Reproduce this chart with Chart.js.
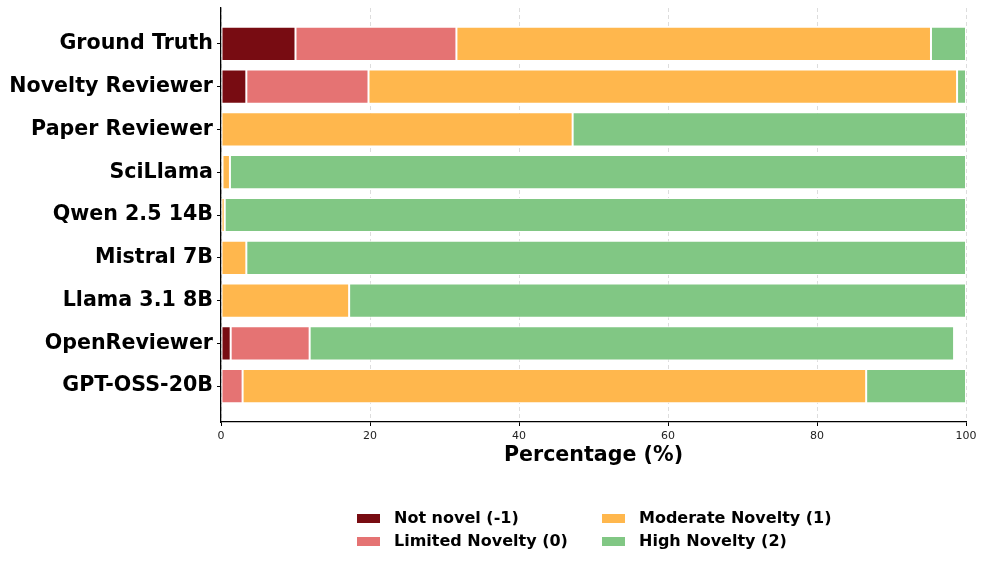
<!DOCTYPE html>
<html>
<head>
<meta charset="utf-8">
<script src="https://cdn.jsdelivr.net/npm/chart.js@4.4.1/dist/chart.umd.min.js"></script>
<style>
  html, body { margin: 0; padding: 0; background: #fff; }
  #wrap { width: 986px; height: 566px; position: relative; }
</style>
</head>
<body>
<div id="wrap"><canvas id="noveltyChart" width="986" height="566"></canvas></div>
<script>
// Data (percent of each model's ratings)
const categories = ['Ground Truth', 'Novelty Reviewer', 'Paper Reviewer', 'SciLlama', 'Qwen 2.5 14B', 'Mistral 7B', 'Llama 3.1 8B', 'OpenReviewer', 'GPT-OSS-20B'];
const notNovel = [10.0, 3.4, 0, 0, 0, 0, 0, 1.3, 0];
const limitedNovelty = [21.6, 16.4, 0, 0.2, 0, 0, 0, 10.6, 2.9];
const moderateNovelty = [63.7, 79.0, 47.2, 1.0, 0.5, 3.4, 17.2, 0, 83.7];
const highNovelty = [4.7, 1.2, 52.8, 98.8, 99.5, 96.6, 82.8, 86.5, 13.4];
const xTicks = [0, 20, 40, 60, 80, 100];

const seriesLabels = ['Not novel (-1)', 'Limited Novelty (0)', 'Moderate Novelty (1)', 'High Novelty (2)'];
const seriesColors = ['#780C12', '#E57373', '#FFB74D', '#81C784'];

const FONT = "'DejaVu Sans', sans-serif";

function toPoints(values) {
    return values.map((v, i) => ({ x: v, y: i }));
}

// Legend in two columns under the axis title
const bottomLegend = {
    id: 'bottomLegend',
    afterDraw(chart) {
        const ctx = chart.ctx;
        const cols = [357, 602];
        const rows = [518.5, 541.5];
        ctx.save();
        ctx.font = "bold 16px " + FONT;
        ctx.textBaseline = 'middle';
        chart.data.datasets.forEach((ds, i) => {
            const x = cols[Math.floor(i / 2)];
            const y = rows[i % 2];
            ctx.fillStyle = ds.backgroundColor;
            ctx.fillRect(x, y - 4.5, 23, 9);
            ctx.fillStyle = '#000';
            ctx.fillText(ds.label, x + 37, y + 0.5);
        });
        ctx.restore();
    }
};

const ctx = document.getElementById('noveltyChart');
new Chart(ctx, {
    type: 'bar',
    data: {
        datasets: [notNovel, limitedNovelty, moderateNovelty, highNovelty].map((vals, i) => ({
            label: seriesLabels[i],
            data: toPoints(vals),
            backgroundColor: seriesColors[i],
            borderColor: '#ffffff',
            borderWidth: 1,
            borderSkipped: false,
            categoryPercentage: 1.0,
            barPercentage: 0.8
        }))
    },
    options: {
        indexAxis: 'y',
        responsive: false,
        animation: false,
        devicePixelRatio: 1,
        layout: { padding: { top: 8, right: 20, bottom: 0, left: 0 } },
        plugins: {
            legend: { display: false },
            tooltip: { enabled: false }
        },
        scales: {
            x: {
                type: 'linear',
                stacked: true,
                min: 0,
                max: 100,
                afterBuildTicks: (scale) => { scale.ticks = xTicks.map(v => ({ value: v })); },
                afterFit: (scale) => { scale.height = 144; },
                grid: {
                    color: '#dddddd',
                    tickColor: '#000',
                    tickLength: 4,
                    lineWidth: 1
                },
                border: { display: true, color: '#000', width: 1.3, dash: [4, 3] },
                ticks: {
                    color: '#222',
                    padding: 4,
                    font: { family: FONT, size: 11 }
                },
                title: {
                    display: true,
                    text: 'Percentage (%)',
                    color: '#000',
                    font: { family: FONT, size: 20.6, weight: 'bold' },
                    padding: { top: 0, bottom: 98 }
                }
            },
            y: {
                type: 'linear',
                stacked: true,
                reverse: true,
                offset: false,
                min: -0.84,
                max: 8.84,
                afterBuildTicks: (scale) => { scale.ticks = categories.map((_, i) => ({ value: i })); },
                afterFit: (scale) => {
                    scale.width = 221;
                    scale.paddingTop = 0;
                    scale.paddingBottom = 0;
                },
                grid: {
                    offset: false,
                    drawOnChartArea: false,
                    tickColor: '#000',
                    tickLength: 4
                },
                border: { display: true, color: '#000', width: 1.3 },
                ticks: {
                    color: '#000',
                    padding: 4,
                    font: { family: FONT, size: 20.6, weight: 'bold' },
                    callback: (value) => categories[value]
                }
            }
        }
    },
    plugins: [bottomLegend]
});
</script>
</body>
</html>
